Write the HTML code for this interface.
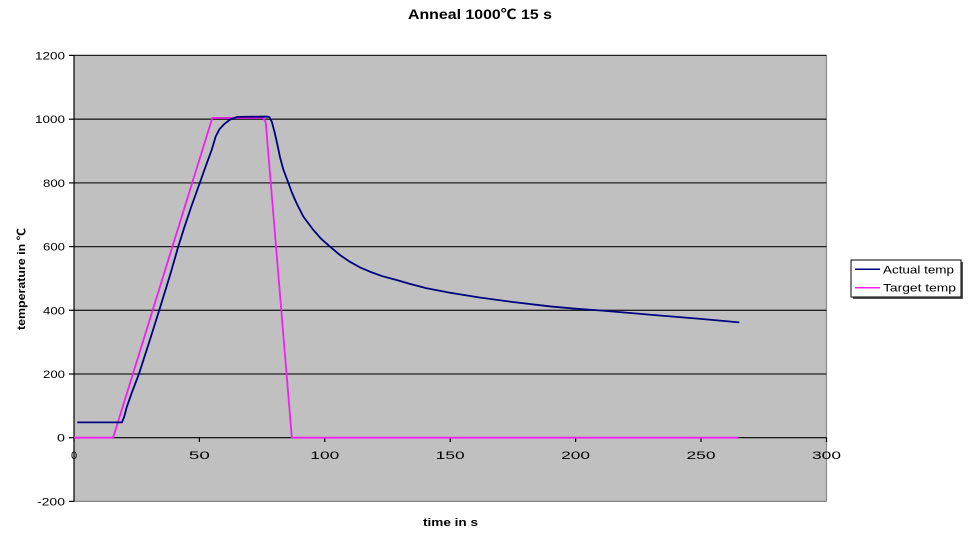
<!DOCTYPE html>
<html>
<head>
<meta charset="utf-8">
<style>
html,body{margin:0;padding:0;background:#fff;}
svg{display:block;}
text{font-family:"Liberation Sans","Noto Sans CJK SC",sans-serif;fill:#000;}
</style>
</head>
<body>
<svg width="970" height="534" viewBox="0 0 970 534" xmlns="http://www.w3.org/2000/svg">
  <!-- plot area -->
  <rect x="74" y="55.4" width="752.5" height="446" fill="#c0c0c0"/>
  <line x1="826.5" y1="55.4" x2="826.5" y2="501.4" stroke="#8a8a8a" stroke-width="1.2"/>
  <line x1="74" y1="501.4" x2="826.5" y2="501.4" stroke="#8a8a8a" stroke-width="1.2"/>
  <!-- gridlines -->
  <g stroke="#222" stroke-width="1.3">
    <line x1="74" y1="55.4" x2="826.5" y2="55.4"/>
    <line x1="74" y1="119.2" x2="826.5" y2="119.2"/>
    <line x1="74" y1="182.9" x2="826.5" y2="182.9"/>
    <line x1="74" y1="246.6" x2="826.5" y2="246.6"/>
    <line x1="74" y1="310.3" x2="826.5" y2="310.3"/>
    <line x1="74" y1="374.0" x2="826.5" y2="374.0"/>
  </g>
  <!-- axes -->
  <g stroke="#000" stroke-width="1.2">
    <line x1="74" y1="55.4" x2="74" y2="501.4"/>
    <line x1="74" y1="437.7" x2="826.5" y2="437.7"/>
    <!-- y ticks -->
    <line x1="69" y1="55.4" x2="74" y2="55.4"/>
    <line x1="69" y1="119.2" x2="74" y2="119.2"/>
    <line x1="69" y1="182.9" x2="74" y2="182.9"/>
    <line x1="69" y1="246.6" x2="74" y2="246.6"/>
    <line x1="69" y1="310.3" x2="74" y2="310.3"/>
    <line x1="69" y1="374.0" x2="74" y2="374.0"/>
    <line x1="69" y1="437.7" x2="74" y2="437.7"/>
    <line x1="69" y1="501.4" x2="74" y2="501.4"/>
    <!-- x ticks -->
    <line x1="74" y1="437.7" x2="74" y2="442"/>
    <line x1="199.4" y1="437.7" x2="199.4" y2="442"/>
    <line x1="324.8" y1="437.7" x2="324.8" y2="442"/>
    <line x1="450.2" y1="437.7" x2="450.2" y2="442"/>
    <line x1="575.6" y1="437.7" x2="575.6" y2="442"/>
    <line x1="701" y1="437.7" x2="701" y2="442"/>
    <line x1="826.5" y1="437.7" x2="826.5" y2="442"/>
  </g>

  <!-- series (data coords) -->
  <g transform="translate(74,437.7) scale(2.5067,-0.31857)">
    <polyline fill="none" stroke="#f020f0" stroke-width="1.8" vector-effect="non-scaling-stroke"
      points="0,0 15.6,0 55.2,1004 75.5,1004 76.5,990 86.9,0 265,0"/>
    <polyline fill="none" stroke="#000080" stroke-width="1.8" vector-effect="non-scaling-stroke" stroke-linejoin="round"
      points="1.3,48 19.1,48 20,65 21,95 23,140 25.9,200 30,300 34,400 38.3,510 41.6,600 44,660 47,730 50.2,800 53,862 55,905 56.5,945 58,968 60,985 62.2,998 65,1007 77,1008 78,1006 78.9,992 80,960 81,925 82.2,880 83.5,842 85.5,800 87,768 88.8,736 91.5,694 95.5,652 98.5,625 102.1,600 106,574 110.1,552 114,535 118.1,521 123,507 128.7,495 134,483 140.7,469 150,455 161.8,440 175,426 190,412 200,405 210.8,399 230,386 250,373 265.4,362"/>
  </g>

  <!-- y tick labels -->
  <g font-size="11" text-anchor="end">
    <text x="65" y="59.4" textLength="30" lengthAdjust="spacingAndGlyphs">1200</text>
    <text x="65" y="123.2" textLength="30" lengthAdjust="spacingAndGlyphs">1000</text>
    <text x="65" y="186.9" textLength="22" lengthAdjust="spacingAndGlyphs">800</text>
    <text x="65" y="250.6" textLength="22" lengthAdjust="spacingAndGlyphs">600</text>
    <text x="65" y="314.3" textLength="22" lengthAdjust="spacingAndGlyphs">400</text>
    <text x="65" y="378.0" textLength="22" lengthAdjust="spacingAndGlyphs">200</text>
    <text x="65" y="441.7" textLength="8" lengthAdjust="spacingAndGlyphs">0</text>
    <text x="65" y="505.4" textLength="28" lengthAdjust="spacingAndGlyphs">-200</text>
  </g>
  <!-- x tick labels -->
  <g font-size="11" text-anchor="middle">
    <text x="74" y="459">0</text>
    <text x="199.4" y="459" textLength="21" lengthAdjust="spacingAndGlyphs">50</text>
    <text x="324.8" y="459" textLength="29" lengthAdjust="spacingAndGlyphs">100</text>
    <text x="450.2" y="459" textLength="29" lengthAdjust="spacingAndGlyphs">150</text>
    <text x="575.6" y="459" textLength="29" lengthAdjust="spacingAndGlyphs">200</text>
    <text x="701" y="459" textLength="29" lengthAdjust="spacingAndGlyphs">250</text>
    <text x="826.5" y="459" textLength="29" lengthAdjust="spacingAndGlyphs">300</text>
  </g>

  <!-- title -->
  <text x="480" y="19" font-size="13.5" font-weight="bold" text-anchor="middle" textLength="144" lengthAdjust="spacingAndGlyphs">Anneal 1000℃ 15 s</text>
  <!-- axis titles -->
  <text x="450.5" y="526" font-size="11" font-weight="bold" text-anchor="middle" textLength="55" lengthAdjust="spacingAndGlyphs">time in s</text>
  <text transform="translate(25,279) rotate(-90)" font-size="11" font-weight="bold" text-anchor="middle" textLength="102" lengthAdjust="spacingAndGlyphs">temperature in ℃</text>

  <!-- legend -->
  <rect x="853" y="262" width="110" height="37" fill="#555"/>
  <rect x="851" y="260" width="110" height="37" fill="#fff" stroke="#000" stroke-width="1"/>
  <line x1="855" y1="269.3" x2="880" y2="269.3" stroke="#000080" stroke-width="1.5"/>
  <line x1="855" y1="287.7" x2="880" y2="287.7" stroke="#f020f0" stroke-width="1.5"/>
  <g font-size="11">
    <text x="883" y="273.3" textLength="71" lengthAdjust="spacingAndGlyphs">Actual temp</text>
    <text x="883" y="291.7" textLength="73" lengthAdjust="spacingAndGlyphs">Target temp</text>
  </g>
</svg>
</body>
</html>
